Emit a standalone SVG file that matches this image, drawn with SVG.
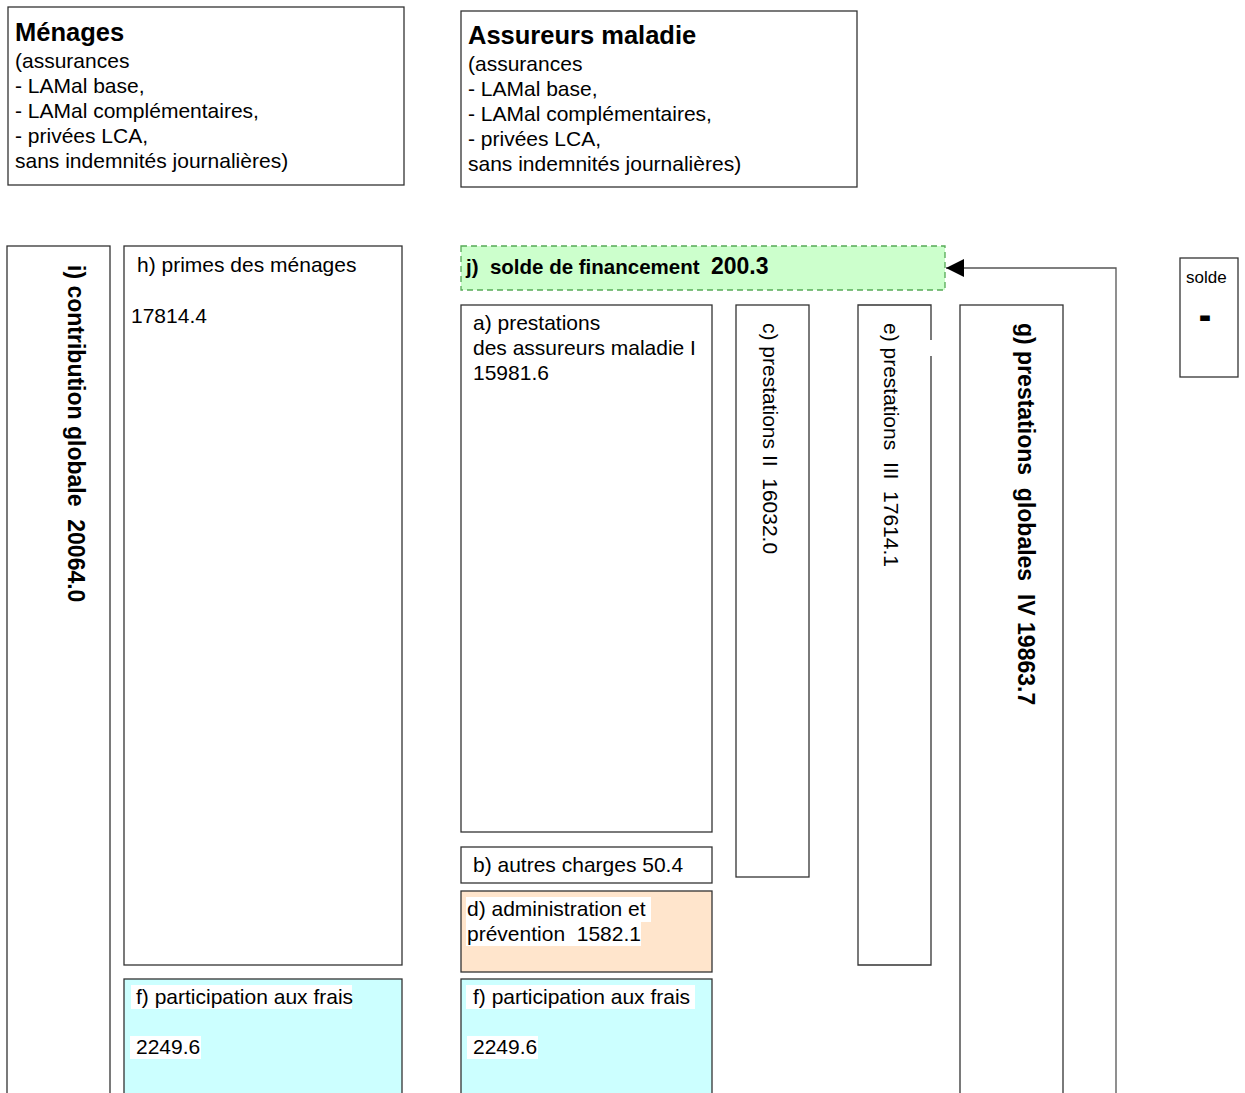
<svg xmlns="http://www.w3.org/2000/svg" width="1245" height="1093" viewBox="0 0 1245 1093">
<defs>
<style>
.box{fill:#fff;stroke:#333;stroke-width:1.3}
.t{font-family:"Liberation Sans",Arial,sans-serif;font-size:21px;fill:#000;white-space:pre}
.b{font-family:"Liberation Sans",Arial,sans-serif;font-weight:bold;fill:#000;white-space:pre}
.bg{fill:#fff}
.conn{fill:none;stroke:#555;stroke-width:1.3}
</style>
<marker id="ah" viewBox="0 0 10 10" refX="10" refY="5" markerWidth="18" markerHeight="18" markerUnits="userSpaceOnUse" orient="auto">
<path d="M0,0 L10,5 L0,10 z" fill="#000"/>
</marker>
</defs>
<rect width="1245" height="1093" fill="#fff"/>

<g id="menages">
<rect class="box" x="8" y="7" width="396" height="178"/>
<text class="b" x="15" y="41" font-size="25.5">Ménages</text>
<text class="t" x="15" y="68">(assurances</text>
<text class="t" x="15" y="93">- LAMal base,</text>
<text class="t" x="15" y="118">- LAMal complémentaires,</text>
<text class="t" x="15" y="143">- privées LCA,</text>
<text class="t" x="15" y="168">sans indemnités journalières)</text>
</g>

<g id="assureurs">
<rect class="box" x="461" y="11" width="396" height="176"/>
<text class="b" x="468" y="44" font-size="25.5">Assureurs maladie</text>
<text class="t" x="468" y="71">(assurances</text>
<text class="t" x="468" y="96">- LAMal base,</text>
<text class="t" x="468" y="121">- LAMal complémentaires,</text>
<text class="t" x="468" y="146">- privées LCA,</text>
<text class="t" x="468" y="171">sans indemnités journalières)</text>
</g>

<g id="i_contribution">
<rect class="box" x="7" y="246" width="103" height="860"/>
<text class="b" font-size="23" xml:space="preserve" transform="translate(68,265) rotate(90)">i) contribution globale  20064.0</text>
</g>

<g id="h_primes">
<rect class="box" x="124" y="246" width="278" height="719"/>
<text class="t" x="137" y="272">h) primes des ménages</text>
<text class="t" x="131" y="323">17814.4</text>
</g>

<g id="f_left">
<rect class="box" x="124" y="979" width="278" height="130" style="fill:#CCFFFF"/>
<rect class="bg" x="131" y="985" width="221" height="24"/>
<text class="t" x="136" y="1004">f) participation aux frais</text>
<rect class="bg" x="130" y="1036" width="71" height="23"/>
<text class="t" x="136" y="1054">2249.6</text>
</g>

<g id="j_solde">
<rect x="461" y="246" width="484" height="44" fill="#CCFFCC" stroke="#55AA55" stroke-width="1.3" stroke-dasharray="6,4"/>
<text class="b" x="466" y="274" font-size="20.5" xml:space="preserve">j)  solde de financement  <tspan font-size="23">200.3</tspan></text>
</g>

<g id="a_prestations">
<rect class="box" x="461" y="305" width="251" height="527"/>
<text class="t" x="473" y="330">a) prestations</text>
<text class="t" x="473" y="355">des assureurs maladie I</text>
<text class="t" x="473" y="380">15981.6</text>
</g>

<g id="b_autres">
<rect class="box" x="461" y="847" width="251" height="36"/>
<text class="t" x="473" y="872">b) autres charges 50.4</text>
</g>

<g id="d_admin">
<rect class="box" x="461" y="891" width="251" height="81" style="fill:#FFE5CC"/>
<rect class="bg" x="466" y="897" width="185" height="25"/>
<rect class="bg" x="466" y="922" width="175" height="24"/>
<text class="t" x="467" y="916">d) administration et</text>
<text class="t" x="467" y="941" xml:space="preserve">prévention  1582.1</text>
</g>

<g id="f_right">
<rect class="box" x="461" y="979" width="251" height="130" style="fill:#CCFFFF"/>
<rect class="bg" x="466" y="985" width="229" height="24"/>
<text class="t" x="473" y="1004">f) participation aux frais</text>
<rect class="bg" x="467" y="1036" width="71" height="23"/>
<text class="t" x="473" y="1054">2249.6</text>
</g>

<g id="c_prestations">
<rect class="box" x="736" y="305" width="73" height="572"/>
<text class="t" xml:space="preserve" transform="translate(763,323) rotate(90)">c) prestations II  16032.0</text>
</g>

<g id="e_prestations">
<path d="M858,305 H931 V340 M931,356 V965 H858 Z" fill="#fff" stroke="none"/>
<path d="M931,340 V305 H858 V965 H931 V356" fill="none" stroke="#333" stroke-width="1.3"/>
<text class="t" xml:space="preserve" transform="translate(884,323) rotate(90)">e) prestations  III  17614.1</text>
</g>

<g id="g_prestations">
<rect class="box" x="960" y="305" width="103" height="800"/>
<text class="b" font-size="23" xml:space="preserve" transform="translate(1018,323) rotate(90)">g) prestations  globales  IV 19863.7</text>
</g>

<g id="solde">
<rect class="box" x="1180" y="258" width="58" height="119"/>
<text class="t" x="1186" y="283" style="font-size:17px">solde</text>
<text class="b" x="1200" y="326" font-size="30" stroke="#000" stroke-width="2">-</text>
</g>

<g id="connectors">
<path class="conn" d="M1116,1100 V268 H946" marker-end="url(#ah)"/>
</g>
</svg>
